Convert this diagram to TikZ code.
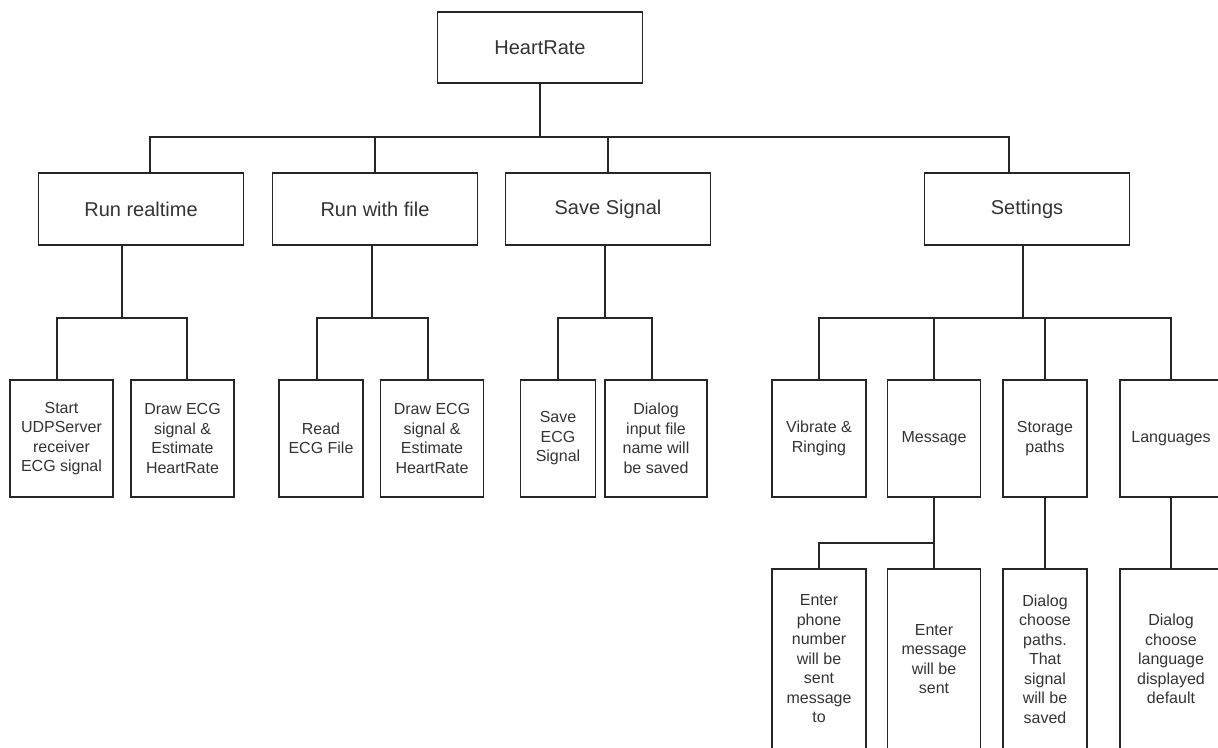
\documentclass[tikz,border=0pt]{standalone}
\usepackage{fontspec}
\setmainfont{Liberation Sans}
\usetikzlibrary{positioning}

\tikzset{
  box/.style={draw=black!85, line width=1.5pt, align=center, text=black!80, inner sep=2pt},
  headbox/.style={box, minimum width=205pt, minimum height=71pt, font=\fontsize{20}{23}\selectfont},
  leafbox/.style={box, minimum height=117pt, font=\fontsize{16}{19.5}\selectfont},
  deepbox/.style={leafbox, minimum height=180pt},
  link/.style={draw=black!85, line width=1.5pt},
}

\begin{document}
\begin{tikzpicture}[x=1pt,y=-1pt,line cap=rect,line join=miter]
    \useasboundingbox (0,0) rectangle (1218,747);
    \clip (0,0) rectangle (1218,747);

    % Root
    \node[headbox] (root) at (540,47.5) {HeartRate};

    % First row
    \node[headbox, minimum height=72pt] (rt) at (141,209) {Run realtime};
    \node[headbox, minimum height=72pt] (rf) at (375,209) {Run with file};
    \node[headbox, minimum height=72pt] (ss) at (608,209) {Save Signal};
    \node[headbox, minimum height=72pt] (st) at (1027,209) {Settings};

    % Second row
    \node[leafbox, minimum width=103pt] (a1) at (61.5,438.5) {Start\\UDPServer\\receiver\\ECG signal};
    \node[leafbox, minimum width=103pt] (a2) at (182.5,438.5) {Draw ECG\\signal \&\\Estimate\\HeartRate};
    \node[leafbox, minimum width=84pt] (b1) at (321,438.5) {Read\\ECG File};
    \node[leafbox, minimum width=103pt] (b2) at (432,438.5) {Draw ECG\\signal \&\\Estimate\\HeartRate};
    \node[leafbox, minimum width=75pt] (c1) at (558,438.5) {Save\\ECG\\Signal};
    \node[leafbox, minimum width=102pt] (c2) at (656,438.5) {Dialog\\input file\\name will\\be saved};
    \node[leafbox, minimum width=94pt] (d1) at (819,438.5) {Vibrate \&\\Ringing};
    \node[leafbox, minimum width=93pt] (d2) at (934,438.5) {Message};
    \node[leafbox, minimum width=84pt] (d3) at (1045,438.5) {Storage\\paths};
    \node[leafbox, minimum width=102pt] (d4) at (1171,438.5) {Languages};

    % Third row
    \node[deepbox, minimum width=94pt] (e1) at (819,659) {Enter\\phone\\number\\will be\\sent\\message\\to};
    \node[deepbox, minimum width=93pt] (e2) at (934,659) {Enter\\message\\will be\\sent};
    \node[deepbox, minimum width=84pt] (e3) at (1045,659) {Dialog\\choose\\paths.\\That\\signal\\will be\\saved};
    \node[deepbox, minimum width=102pt] (e4) at (1171,659) {Dialog\\choose\\language\\displayed\\default};

    % Root -> first row
    \coordinate (bus0) at (540,137);
    \draw[link] (root.south) -- (bus0);
    \draw[link] ([xshift=9pt]rt.north) |- (bus0) -| ([xshift=-18pt]st.north);
    \draw[link] (rf.north) -- (rf.north |- bus0);
    \draw[link] (ss.north) -- (ss.north |- bus0);

    % Run realtime
    \coordinate (bus1) at (122,318);
    \draw[link] ([xshift=-19pt]rt.south) -- (bus1);
    \draw[link] ([xshift=-4.5pt]a1.north) |- (bus1) -| ([xshift=4.5pt]a2.north);

    % Run with file
    \coordinate (bus2) at (372,318);
    \draw[link] ([xshift=-3pt]rf.south) -- (bus2);
    \draw[link] ([xshift=-4pt]b1.north) |- (bus2) -| ([xshift=-4pt]b2.north);

    % Save Signal
    \coordinate (bus3) at (605,318);
    \draw[link] ([xshift=-3pt]ss.south) -- (bus3);
    \draw[link] (c1.north) |- (bus3) -| ([xshift=-4pt]c2.north);

    % Settings
    \coordinate (bus4) at (1023,318);
    \draw[link] ([xshift=-4pt]st.south) -- (bus4);
    \draw[link] (d1.north) |- (bus4) -| (d4.north);
    \draw[link] (d2.north) -- (d2.north |- bus4);
    \draw[link] (d3.north) -- (d3.north |- bus4);

    % Message, storage, languages
    \coordinate (bus5) at (934,543);
    \draw[link] (d2.south) -- (bus5);
    \draw[link] (e1.north) |- (bus5) -- (e2.north);
    \draw[link] (d3.south) -- (e3.north);
    \draw[link] (d4.south) -- (e4.north);
\end{tikzpicture}
\end{document}
